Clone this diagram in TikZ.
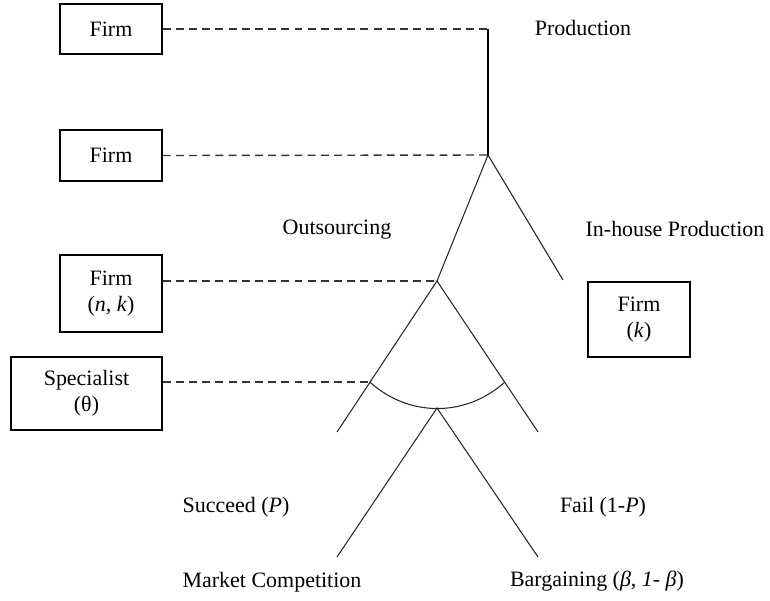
\documentclass[tikz,border=0pt]{standalone}
\usepackage{fontspec}
\setmainfont{Liberation Serif}
\usetikzlibrary{positioning,calc}

\begin{document}
\begin{tikzpicture}[x=0.02cm, y=-0.02cm,
    every node/.style={font=\fontsize{12.5}{15}\selectfont},
    player/.style={draw, line width=0.9pt, minimum width=2.04cm, align=center, inner sep=0pt},
    info/.style={dash pattern=on 4.5pt off 3pt, line width=0.8pt, black!80},
    branch/.style={line width=0.6pt, black!85}]
    \useasboundingbox (0,0) rectangle (770,600);

    % the tree
    \coordinate (top) at (488,29);
    \coordinate (n1) at (488,155);
    \coordinate (n2) at (437,281);
    \coordinate (ih) at (563,280);
    \coordinate (e1) at (337,432);
    \coordinate (e2) at (538,432);
    \coordinate (n3) at (437,408);
    \coordinate (e3) at (337,557);
    \coordinate (e4) at (538,557);
    \coordinate (aL) at ($ (n2)!.67!(e1) $);
    \coordinate (aR) at ($ (n2)!.67!(e2) $);

    \draw[line width=0.9pt] (top) -- (n1);
    \draw[branch] (n2) -- (n1) -- (ih);
    \draw[branch] (e1) -- (n2) -- (e2);
    \draw[branch] (e3) -- (n3) -- (e4);
    % specialist's information set
    \draw[branch] (aL) to[bend right=42] (aR);

    % the players
    \node[player, minimum height=1.0cm] (f1) at (111,29) {Firm};
    \node[player, minimum height=1.02cm] (f2) at (111,155.5) {Firm};
    \node[player, minimum height=1.54cm] (f3) at (111,293.5) {Firm\\(\textit{n}, \textit{k})};
    \node[player, minimum width=3.02cm, minimum height=1.46cm] (sp) at (86.5,393.5) {Specialist\\(θ)};
    \node[player, minimum height=1.5cm] (fk) at (639,319.5) {Firm\\(\textit{k})};

    % who moves where
    \draw[info] (f1.east) -- (top);
    \draw[info] (f2.east) -- (n1);
    \draw[info] (n2 -| f3.east) -- (n2);
    \draw[info] (aL -| sp.east) -- (aL);

    % labels
    \node (prod) at (583,28) {Production};
    \node (out) at (337,230) {Outsourcing};
    \node (inh) at (675,229) {In-house Production};
    \node (succ) at (236,507) {Succeed (\textit{P})};
    \node (fail) at (603,507) {Fail (1-\textit{P})};
    \node (mc) at (272,582) {Market Competition};
    \node (barg) at (597,581) {Bargaining (\textit{β}, \textit{1}- \textit{β})};
\end{tikzpicture}
\end{document}
